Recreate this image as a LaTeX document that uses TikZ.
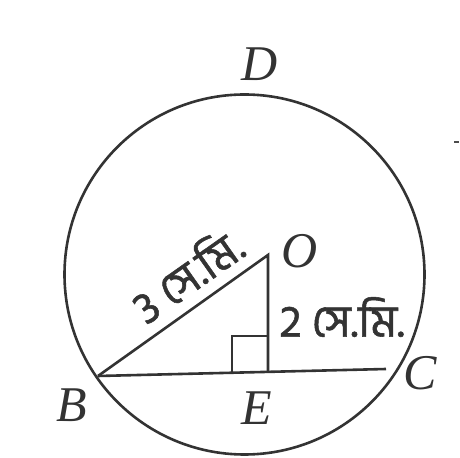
\documentclass[tikz,border=0pt]{standalone}
\usepackage{fontspec}
\setmainfont{Liberation Serif}
\newfontfamily\bnfont[Script=Bengali,FakeBold=1.2]{Hind Siliguri}
\begin{document}
\begin{tikzpicture}[x=0.5pt,y=-0.5pt,
  ln/.style={line width=1.3pt,draw=black!80},
  ptlabel/.style={font=\fontsize{25}{28}\selectfont\itshape,text=black!80,inner sep=0pt},
  meas/.style={font=\bnfont\fontsize{22.5}{26}\selectfont,text=black!80,inner sep=0pt}]
\useasboundingbox (0,0) rectangle (460,458);
\coordinate (Z) at (244.5,274.5);
\draw[ln] (Z) circle[radius=90pt];
\coordinate (O) at (268,255);
\coordinate (E) at (268,373);
\coordinate (B) at (98,376);
\coordinate (C) at (386,369);
\draw[ln] (B) -- (C);
\draw[ln] (B) -- (O) -- (E);
\draw[ln] (232,373.6) -- (232,336) -- (268,336);
\node[ptlabel] (lD) at (260,64) {D};
\node[ptlabel] (lO) at (300,251) {O};
\node[ptlabel] (lB) at (72,405) {B};
\node[ptlabel] (lE) at (257,408) {E};
\node[ptlabel] (lC) at (420,373) {C};
\node[meas] (m1) at (186,274) [rotate=35.2] {3 সে.মি.};
\node[meas,anchor=west] (m2) at (279,317) {2 সে.মি.};
\draw[line width=1pt,black!70] (454,142) -- (459,142);
\end{tikzpicture}
\end{document}
